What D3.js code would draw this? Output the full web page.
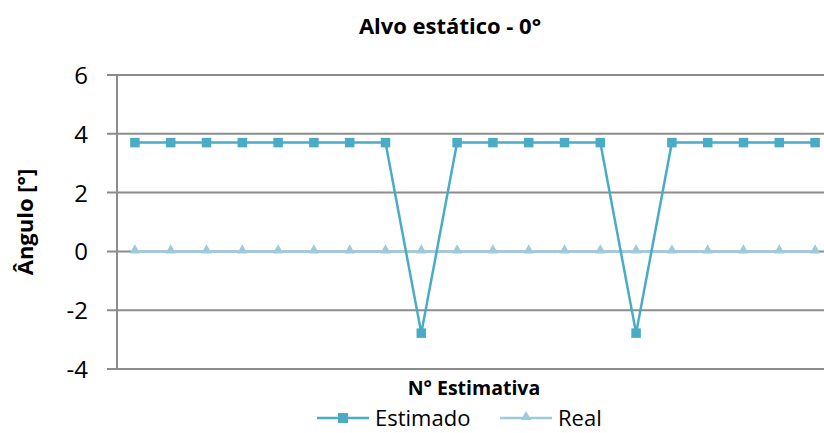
<!DOCTYPE html>
<html>
<head>
<meta charset="utf-8">
<script src="https://cdn.jsdelivr.net/npm/d3@7"></script>
<style>
  body { margin: 0; background: #fff; }
  svg { display: block; font-family: "Open Sans", "Liberation Sans", sans-serif; }
</style>
</head>
<body>
<div id="chart"></div>
<script>
// Alvo estático - 0°: 20 estimativas
const estimativas = d3.range(1, 21)
const estimado = [3.7, 3.7, 3.7, 3.7, 3.7, 3.7, 3.7, 3.7, -2.78, 3.7,
                  3.7, 3.7, 3.7, 3.7, -2.78, 3.7, 3.7, 3.7, 3.7, 3.7]
const real = [0, 0, 0, 0, 0, 0, 0, 0, 0, 0,
              0, 0, 0, 0, 0, 0, 0, 0, 0, 0]
const yTicks = [-4, -2, 0, 2, 4, 6]

const W = 824, H = 433
const plot = { left: 117, right: 833, top: 75, bottom: 369 }

const svg = d3.select("#chart").append("svg")
  .attr("width", W).attr("height", H)

const x = d3.scaleBand().domain(estimativas).range([plot.left, plot.right])
const y = d3.scaleLinear().domain([-4, 6]).range([plot.bottom, plot.top])
const cx = d => x(d) + x.bandwidth() / 2

// grid lines
svg.append("g").selectAll("line")
  .data(yTicks)
  .join("line")
  .attr("x1", plot.left - 10).attr("x2", W)
  .attr("y1", d => y(d)).attr("y2", d => y(d))
  .attr("stroke", "#8c8c8c").attr("stroke-width", 2)

// y axis line
svg.append("line")
  .attr("x1", plot.left).attr("x2", plot.left)
  .attr("y1", plot.top).attr("y2", plot.bottom)
  .attr("stroke", "#8c8c8c").attr("stroke-width", 2)

// tick labels
svg.append("g").selectAll("text")
  .data(yTicks)
  .join("text")
  .attr("x", 88).attr("y", d => y(d) + 9)
  .attr("text-anchor", "end")
  .attr("font-size", 24)
  .attr("fill", "#000")
  .text(d => d === 0 ? "0" : (d < 0 ? "-" + Math.abs(d) : d))

const line = d3.line().x((d, i) => cx(estimativas[i])).y(d => y(d))

// Real
const realColor = "#9ecbd9"
svg.append("path").datum(real)
  .attr("d", line).attr("fill", "none")
  .attr("stroke", realColor).attr("stroke-width", 2.5)
const tri = d3.symbol().type(d3.symbolTriangle).size(48)
svg.append("g").selectAll("path")
  .data(real)
  .join("path")
  .attr("d", tri)
  .attr("transform", (d, i) => `translate(${cx(estimativas[i])},${y(d) - 1})`)
  .attr("fill", realColor)

// Estimado
const estColor = "#4aabc6"
svg.append("path").datum(estimado)
  .attr("d", line).attr("fill", "none")
  .attr("stroke", estColor).attr("stroke-width", 2.5)
svg.append("g").selectAll("rect")
  .data(estimado)
  .join("rect")
  .attr("x", (d, i) => cx(estimativas[i]) - 4.75)
  .attr("y", d => y(d) - 4.75)
  .attr("width", 9.5).attr("height", 9.5)
  .attr("fill", estColor)

// title and axis labels
svg.append("text")
  .attr("x", 450).attr("y", 34)
  .attr("text-anchor", "middle")
  .attr("font-size", 22).attr("font-weight", "bold")
  .text("Alvo estático - 0°")

svg.append("text")
  .attr("transform", "translate(33,222) rotate(-90)")
  .attr("text-anchor", "middle")
  .attr("font-size", 22).attr("font-weight", "bold")
  .text("Ângulo [°]")

svg.append("text")
  .attr("x", 474).attr("y", 395)
  .attr("text-anchor", "middle")
  .attr("font-size", 19.5).attr("font-weight", "bold")
  .text("N° Estimativa")

// legend
const legend = [
  { name: "Estimado", color: estColor, x0: 317, marker: "square" },
  { name: "Real", color: realColor, x0: 500, marker: "triangle" }
]
const lg = svg.append("g").selectAll("g")
  .data(legend)
  .join("g")
  .attr("transform", d => `translate(${d.x0},418)`)
lg.append("line")
  .attr("x1", 0).attr("x2", 52)
  .attr("stroke", d => d.color).attr("stroke-width", 2.5)
lg.filter(d => d.marker === "square").append("rect")
  .attr("x", 21).attr("y", -5).attr("width", 10).attr("height", 10)
  .attr("fill", d => d.color)
lg.filter(d => d.marker === "triangle").append("path")
  .attr("d", tri).attr("transform", "translate(26,-1)")
  .attr("fill", d => d.color)
lg.append("text")
  .attr("x", 58).attr("y", 8)
  .attr("font-size", 22)
  .text(d => d.name)
</script>
</body>
</html>
